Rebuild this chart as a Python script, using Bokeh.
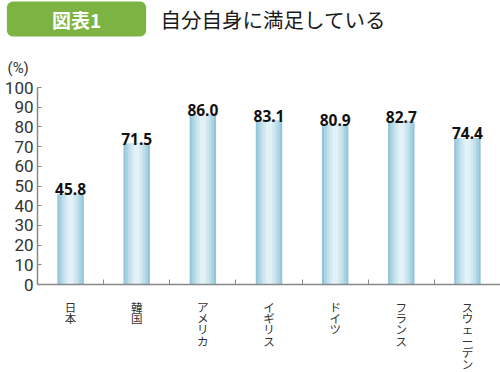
from bokeh.plotting import figure
from bokeh.models import Range1d, FixedTicker, Label, ColumnDataSource
from bokeh.layouts import column
from bokeh.core.properties import value
from bokeh.embed import file_html
from bokeh.resources import INLINE

categories = ["日本", "韓国", "アメリカ", "イギリス", "ドイツ", "フランス", "スウェーデン"]
values = [45.8, 71.5, 86.0, 83.1, 80.9, 82.7, 74.4]
y_ticks = [0, 10, 20, 30, 40, 50, 60, 70, 80, 90, 100]
title_tag = "図表1"
title_text = "自分自身に満足している"
unit_text = "(%)"

n = len(categories)
xs = [i + 0.5 for i in range(n)]
src = ColumnDataSource(dict(x=xs, top=values, lab=[f"{v:.1f}" for v in values]))

# vertical (one character per line) category labels
CH_TOP, CH_STEP = 5, 11.4
cx, cch, coff = [], [], []
for x, cat in zip(xs, categories):
    for k, ch in enumerate(cat):
        cx.append(x)
        cch.append(ch)
        coff.append(CH_TOP + k * CH_STEP)
csrc = ColumnDataSource(dict(x=cx, ch=cch, off=coff))

W = 500
FL = 37
HT, HM, HB = 77, 216, 79

# ---------- title strip ----------
t = figure(width=W, height=HT, output_backend="svg", toolbar_location=None,
           x_range=Range1d(0, W), y_range=Range1d(0, HT),
           x_axis_location=None, y_axis_location=None,
           min_border=0, min_border_left=0, min_border_right=0, min_border_top=0, min_border_bottom=0)
t.outline_line_color = None
t.grid.visible = False
t.add_layout(Label(x=76, y=HT - 18.5, x_units="screen", y_units="screen", text=title_tag,
                   text_font="Noto Sans CJK JP", text_font_style="bold", text_font_size="19px",
                   text_color="white", text_baseline="middle", text_align="center",
                   background_fill_color="#7cb342", border_radius=6, padding=(45, 45, 4, 4)))
t.add_layout(Label(x=160, y=HT - 18.5, x_units="screen", y_units="screen", text=title_text,
                   text_font="Noto Sans CJK JP", text_font_size="20.5px", text_color="#1a1a1a",
                   text_baseline="middle", text_align="left"))
t.add_layout(Label(x=7, y=HT - 67, x_units="screen", y_units="screen", text=unit_text,
                   text_font="Roboto", text_font_size="15px", text_color="#333333",
                   text_baseline="middle", text_align="left"))

# ---------- main chart ----------
p = figure(width=W, height=HM, output_backend="svg", toolbar_location=None,
           x_range=Range1d(0, n), y_range=Range1d(0, 100),
           min_border_left=FL, min_border_right=0, min_border_top=10, min_border_bottom=9)
p.outline_line_color = None
p.xgrid.visible = False
p.ygrid.visible = False

strips = [(0.40, "#93c5d8"), (0.34, "#a9d3e2"), (0.26, "#bfdfea"), (0.18, "#d2e9f1"), (0.09, "#e2f2f7")]
for w, c in strips:
    p.vbar(x="x", top="top", bottom=0, width=w, source=src, fill_color=c, line_color=None)

p.text(x="x", y="top", text="lab", source=src, text_align="center", text_baseline="alphabetic",
       y_offset=-5, text_font_size="15.5px", text_color="#111111", text_font=value("Noto Sans"),
       text_font_style="bold")

ax = p.xaxis[0]
ax.ticker = FixedTicker(ticks=xs, minor_ticks=list(range(1, n)))
ax.major_label_overrides = {x: "" for x in xs}
ax.major_label_text_font_size = "0px"
ax.major_label_standoff = 0
ax.major_tick_in = 0
ax.major_tick_out = 0
ax.minor_tick_in = 5
ax.minor_tick_out = 0
ax.minor_tick_line_color = "#888888"
ax.axis_line_color = "#888888"
ax.axis_line_width = 1.5

ay = p.yaxis[0]
ay.ticker = FixedTicker(ticks=y_ticks)
ay.major_tick_in = 4
ay.major_tick_out = 0
ay.minor_tick_in = 0
ay.minor_tick_out = 0
ay.major_tick_line_color = "#888888"
ay.axis_line_color = "#888888"
ay.axis_line_width = 1.5
ay.major_label_standoff = 4
ay.major_label_text_font = "Roboto"
ay.major_label_text_font_size = "17px"
ay.major_label_text_color = "#333333"

# ---------- category labels strip ----------
b = figure(width=W, height=HB, output_backend="svg", toolbar_location=None,
           x_range=p.x_range, y_range=Range1d(0, 1),
           x_axis_location=None, y_axis_location=None,
           min_border_left=FL, min_border_right=0, min_border_top=0, min_border_bottom=0)
b.outline_line_color = None
b.grid.visible = False
b.text(x="x", y=1, text="ch", source=csrc, y_offset="off", text_align="center", text_baseline="top",
       text_font=value("Noto Sans CJK JP"), text_font_size="11.5px", text_color="#333333")

layout = column(t, column(p, b, spacing=0), spacing=0)
open("out.html", "w").write(file_html(layout, INLINE))
